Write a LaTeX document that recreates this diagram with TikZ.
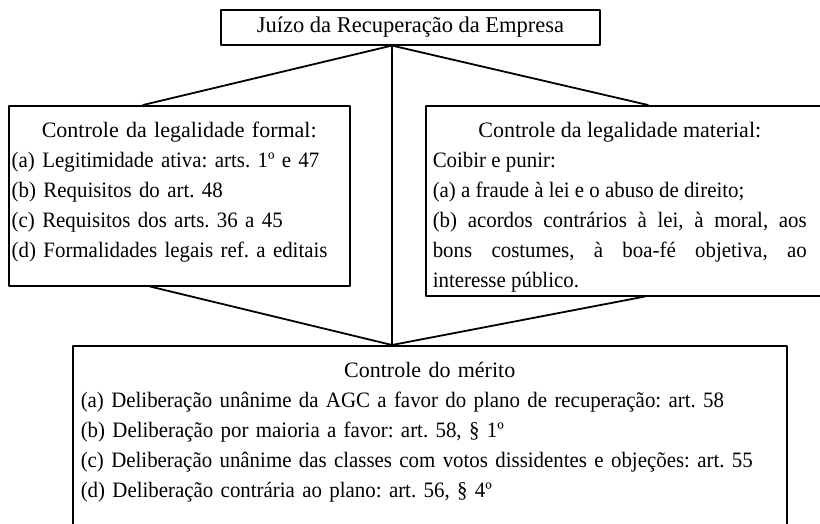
\documentclass[tikz,border=0pt]{standalone}
\usepackage{fontspec}
\setmainfont{Liberation Serif}
\newfontfamily\itemfont[FakeStretch=0.95]{Liberation Serif}
\frenchspacing
\begin{document}
\begin{tikzpicture}[x=1pt, y=-1pt, font=\fontsize{22}{30}\selectfont, line join=round, line cap=round,
		panel/.style={draw, line width=1.5pt, anchor=north west, inner ysep=17pt, text height=15pt},
		wire/.style={line width=1.8pt}]
			\useasboundingbox (0,0) rectangle (820,523);
			\node[draw, line width=1.1pt, minimum width=379pt, minimum height=35pt, inner sep=0pt, font=\fontsize{22.5}{30}\selectfont] (juizo) at (410.5,27.5) {Juízo da Recuperação da Empresa};
			\node[panel, inner xsep=3pt, text width=335pt, align=left, text depth=131pt] (formal) at (8,105) {{\centering Controle da legalidade formal:\par}\itemfont(a) Legitimidade ativa: arts. 1º e 47\\(b) Requisitos do art. 48\\(c) Requisitos dos arts. 36 a 45\\(d) Formalidades legais ref. a editais};
			\node[panel, inner xsep=7pt, text depth=141pt] (material) at (425,105) {\parbox[t]{374pt}{{\centering Controle da legalidade material:\par}\itemfont Coibir e punir:\\(a) a fraude à lei e o abuso de direito;\\(b) acordos contrários à lei, à moral, aos\linebreak bons costumes, à boa-fé objetiva, ao\linebreak interesse público.}\hspace*{30pt}};
			\node[panel, inner xsep=8pt, text width=698pt, align=left, text depth=141pt] (merito) at (72,345) {{\centering Controle do mérito\par}\itemfont(a) Deliberação unânime da AGC a favor do plano de recuperação: art. 58\\(b) Deliberação por maioria a favor: art. 58, § 1º\\(c) Deliberação unânime das classes com votos dissidentes e objeções: art. 55\\(d) Deliberação contrária ao plano: art. 56, § 4º};
			\coordinate (hub) at ([xshift=-18.5pt]juizo.south);
			\coordinate (meet) at ([xshift=320pt]merito.north west);
			\draw[wire] ([xshift=135pt]formal.north west) -- (hub) -- ([xshift=223pt]material.north west);
			\draw[wire] (hub) -- (meet);
			\draw[wire] ([xshift=142pt]formal.south west) -- (meet) -- ([xshift=220pt]material.south west);
		\end{tikzpicture}
\end{document}
